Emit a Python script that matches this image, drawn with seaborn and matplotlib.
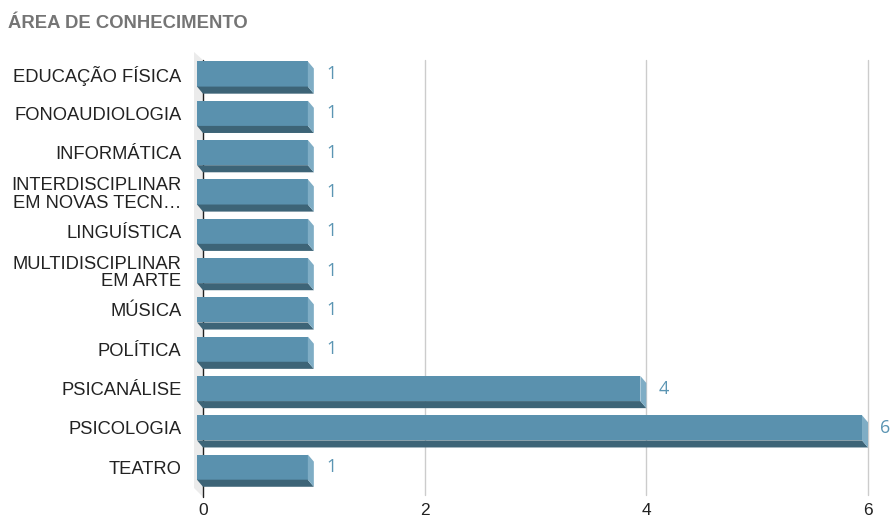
import pandas as pd
import matplotlib.pyplot as plt
from matplotlib.patches import Polygon
import seaborn as sns

# data ------------------------------------------------
areas = ["EDUCAÇÃO FÍSICA", "FONOAUDIOLOGIA", "INFORMÁTICA",
         "INTERDISCIPLINAR\nEM NOVAS TECN…", "LINGUÍSTICA",
         "MULTIDISCIPLINAR\nEM ARTE", "MÚSICA", "POLÍTICA",
         "PSICANÁLISE", "PSICOLOGIA", "TEATRO"]
counts = [1, 1, 1, 1, 1, 1, 1, 1, 4, 6, 1]
xticks = [0, 2, 4, 6]

df = pd.DataFrame({"area": areas, "n": counts})

# colours / 3d look -------------------------------------
front = "#5a91ae"
bottom = "#3d6477"
side = "#7fadc5"
dx = 0.054      # depth offset in x units
dy = 0.18       # depth offset in category units

sns.set_style("white")
plt.rcParams["font.family"] = ["Liberation Sans", "DejaVu Sans"]

fig = plt.figure(figsize=(8.92, 5.21), dpi=100)
W, H = 892, 521
ax = fig.add_axes([194 / W, 1 - 497 / H, (868 - 194) / W, (497 - 52) / H])

x0 = -9 / 110.8
y_top, y_bot = -0.56, 10.76

sns.barplot(data=df, x="n", y="area", orient="h", width=0.64,
            color=front, saturation=1, ax=ax, zorder=2)
ax.set_xlim(x0, 6)
ax.set_ylim(y_bot, y_top)

# left wall + grid
ax.add_patch(Polygon([(x0, y_top), (0, -0.356), (0, y_bot), (x0, 10.53)],
                     closed=True, fc="#ebebeb", ec="none", zorder=0))
for t in xticks[1:]:
    ax.plot([t, t], [-0.356, 10.71], color="#cccccc", lw=1, zorder=0.5,
            clip_on=False)
ax.plot([0, 0], [-0.356, y_bot], color="#222222", lw=1, zorder=0.6,
        clip_on=False)

for p, v in zip(ax.containers[0].patches, counts):
    p.set_x(p.get_x() - dx)
    p.set_edgecolor("none")
    xl, yt = p.get_x(), p.get_y()
    xr, yb = xl + p.get_width(), yt + p.get_height()
    ax.add_patch(Polygon([(xl, yb), (xr, yb), (xr + dx, yb + dy), (xl + dx, yb + dy)],
                         closed=True, fc=bottom, ec="none", zorder=2))
    ax.add_patch(Polygon([(xr, yt), (xr + dx, yt + dy), (xr + dx, yb + dy), (xr, yb)],
                         closed=True, fc=side, ec="none", zorder=2))
    ax.text(v + 0.11, yt + p.get_height() / 2, str(v), color="#5b95b3",
            fontsize=13, va="center", ha="left", family=["Open Sans", "DejaVu Sans"],
            clip_on=False)

for s in ax.spines.values():
    s.set_visible(False)
ax.set_xlabel("")
ax.set_ylabel("")
ax.set_xticks(xticks)
ax.set_xticklabels([str(t) for t in xticks], fontsize=12.5, color="#222222")
ax.tick_params(axis="x", length=0, pad=4)
ax.set_yticks(range(len(areas)))
ax.set_yticklabels(areas, fontsize=13.2, color="#222222", linespacing=1.05)
ax.tick_params(axis="y", length=0, pad=9)
ax.grid(False)

fig.text(8 / W, 1 - 23.5 / H, "ÁREA DE CONHECIMENTO", fontsize=13.3,
         fontweight="bold", color="#757575", va="center", ha="left")

fig.savefig("out.png", dpi=100)
